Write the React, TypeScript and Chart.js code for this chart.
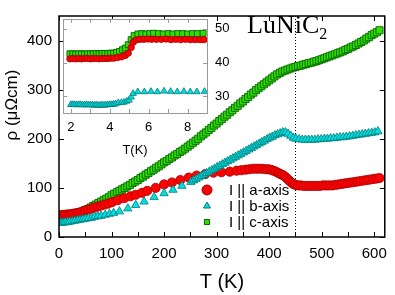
import React, { useEffect, useRef } from 'react';
import { Chart, registerables } from 'chart.js';
Chart.register(...registerables);

// ---------- main plot data (T in K, rho in µΩcm) ----------
const aT = [2,5,8,12,16,20,25,30,35,40,45,50,56,62,68,74,80,87,94,101,112,124,136,146,158,168,184,200,215,231,247,262,278,294,309,325,338,347,355,362,369,375,381,387,393,398,403,408,413,418,422,426,430,434,438,442,446,450,455,460,466,472,478,484,490,496,502,508,514,520,526,532,538,544,550,556,562,568,574,580,586,592,598,604,610];
const aR = [44,44,45,45,46,46,47,48,49,50,52,54,56,58,60,62,64,66,68,71,75,79,83,86,90,94,100,107,111,116,121,125,128,131,132,133,135,136,137,138,139,139,139,139,138,138,137,135,133,130,128,126,123,119,115,111,108,106,105,105,104,104,104,104,104,104,105,105,105,105,106,107,108,109,110,111,112,113,114,115,116,117,118,119,120];

const bT = [2,5,8,12,16,20,25,30,35,40,45,50,56,62,68,74,80,88,96,104,115,131,146,162,181,200,217,234,251,256,261,266,271,276,281,286,291,296,301,306,311,316,321,326,331,336,341,346,351,356,361,366,371,376,381,386,391,396,401,406,411,416,421,426,431,436,441,446,451,457,463,469,475,481,487,493,499,505,511,517,523,529,535,541,547,553,559,565,571,577,583,589,595,601,607];
const bR = [29,29,29,30,30,31,32,33,34,35,36,37,38,39,41,42,43,45,47,49,52,58,65,72,81,89,96,104,112,115,118,121,124,127,130,133,136,139,142,145,148,151,154,157,160,163,166,169,172,175,178,181,184,187,190,193,196,199,202,204,207,209,211,213,213,210,206,202,200,199,198,198,198,198,198,199,199,200,200,201,201,202,203,203,204,205,206,207,208,209,210,211,212,213,215];

const cT = [2,6,10,15,20,25,30,35,40,45,50,55,60,65,70,75,80,85,90,95,100,105,110,115,120,125,130,135,140,145,150,155,160,165,170,175,180,185,190,195,200,205,210,215,220,225,230,235,240,245,250,255,260,265,270,275,280,285,290,295,300,305,310,315,320,325,330,335,340,345,350,355,360,365,370,375,380,385,390,395,400,405,410,415,420,425,430,435,440,445,450,455,460,465,470,475,480,485,490,495,500,505,510,515,520,525,530,535,540,545,550,555,560,565,570,575,580,585,590,595,600,605,610];
const cR = [43,43,43,44,44,45,47,48,50,52,55,57,60,63,66,69,72,75,78,81,85,88,91,94,97,100,103,106,110,113,116,120,123,127,130,134,137,141,144,148,152,155,159,162,166,169,173,176,180,184,188,192,196,200,205,209,213,218,222,227,231,236,240,245,249,254,258,263,267,272,276,281,285,290,294,299,303,307,311,315,319,323,327,331,334,337,339,341,343,345,346,348,349,351,352,354,355,357,358,360,362,364,366,368,370,372,374,376,378,381,383,386,388,391,394,397,400,404,407,411,414,417,421];

// ---------- inset data (T in K, rho in µΩcm) ----------
const inAT = [1.95,2.1,2.25,2.4,2.55,2.7,2.85,3.0,3.15,3.3,3.45,3.6,3.75,3.9,4.05,4.2,4.4,4.6,4.8,4.95,5.1,5.2,5.35,5.55,5.75,5.95,6.15,6.4,6.65,6.9,7.15,7.4,7.65,7.9,8.15,8.4,8.65,8.85];
const inAR = [41.1,41.2,41.1,41.2,41.1,41.2,41.2,41.1,41.2,41.2,41.1,41.2,41.2,41.2,41.3,41.3,41.5,41.7,42.1,42.8,44.5,46.0,46.7,46.9,46.9,47.0,46.9,46.9,46.9,47.0,46.8,46.9,46.8,46.9,46.8,46.8,46.8,46.8];

const inBT = [2.0,2.1,2.2,2.3,2.4,2.5,2.6,2.7,2.8,2.9,3.0,3.1,3.2,3.3,3.4,3.5,3.6,3.7,3.8,3.9,4.0,4.1,4.2,4.3,4.44,4.6,4.73,4.87,4.99,5.1,5.2,5.44,5.78,6.12,6.45,6.79,7.13,7.47,7.81,8.14,8.48,8.87];
const inBR = [27.5,27.5,27.5,27.4,27.5,27.5,27.4,27.4,27.5,27.4,27.4,27.4,27.3,27.4,27.3,27.3,27.4,27.3,27.4,27.4,27.5,27.5,27.6,27.7,28.0,28.1,28.2,28.5,28.8,29.7,30.8,31.3,31.3,31.4,31.3,31.5,31.4,31.3,31.4,31.3,31.3,31.4];

const inCT = [1.95,2.1,2.25,2.4,2.55,2.7,2.85,3.0,3.15,3.3,3.45,3.6,3.75,3.9,4.05,4.2,4.35,4.5,4.65,4.8,4.95,5.1,5.25,5.45,5.65,5.85,6.05,6.25,6.5,6.75,7.0,7.25,7.5,7.75,8.0,8.25,8.5,8.8];
const inCR = [42.6,42.6,42.5,42.6,42.6,42.5,42.6,42.6,42.6,42.7,42.6,42.7,42.7,42.7,42.8,42.8,43.0,43.3,43.8,44.3,45.3,46.8,48.0,48.5,48.6,48.5,48.6,48.7,48.6,48.5,48.6,48.5,48.6,48.6,48.5,48.6,48.6,48.7];

// ---------- ticks / labels ----------
const mainXTicks = [0,100,200,300,400,500,600];
const mainYTicks = [0,100,200,300,400];
const insetXTicks = [2,4,6,8];
const insetYTicks = [30,40,50];
const legendLabels = ['I || a-axis','I || b-axis','I || c-axis'];
const transitionT = 450;

const SANS = '"Liberation Sans", Arial, sans-serif';
const SERIF = '"Liberation Serif", "Times New Roman", serif';

const COL = {
  redFill: '#ff0000', redEdge: '#a00000',
  cyanFill: '#00e0e0', cyanEdge: '#007878',
  greenFill: '#33dd00', greenEdge: '#006400',
};

const pts = (xs: number[], ys: number[]) => xs.map((x, i) => ({ x, y: ys[i] }));

function drawMarker(ctx: CanvasRenderingContext2D, style: string, x: number, y: number, r: number, fill: string, edge: string) {
  ctx.save();
  ctx.fillStyle = fill; ctx.strokeStyle = edge; ctx.lineWidth = 1;
  ctx.beginPath();
  if (style === 'circle') {
    ctx.arc(x, y, r, 0, Math.PI * 2);
  } else if (style === 'triangle') {
    let a = 0;
    ctx.moveTo(x + Math.sin(a) * r, y - Math.cos(a) * r);
    a += (2 * Math.PI) / 3;
    ctx.lineTo(x + Math.sin(a) * r, y - Math.cos(a) * r);
    a += (2 * Math.PI) / 3;
    ctx.lineTo(x + Math.sin(a) * r, y - Math.cos(a) * r);
    ctx.closePath();
  } else {
    const s = r * Math.SQRT1_2;
    ctx.rect(x - s, y - s, 2 * s, 2 * s);
  }
  ctx.fill(); ctx.stroke();
  ctx.restore();
}

const mainDecor = {
  id: 'mainDecor',
  beforeDatasetsDraw(chart: any) {
    const { ctx, chartArea: ca, scales } = chart;
    const px = Math.round(scales.x.getPixelForValue(transitionT)) + 0.5;
    ctx.save();
    ctx.strokeStyle = '#000'; ctx.lineWidth = 1; ctx.setLineDash([1, 2]);
    ctx.beginPath(); ctx.moveTo(px, ca.top); ctx.lineTo(px, ca.bottom); ctx.stroke();
    ctx.restore();
  },
  afterDraw(chart: any) {
    const { ctx, chartArea: ca, scales } = chart;
    const x = scales.x, y = scales.y;
    ctx.save();
    ctx.strokeStyle = '#000'; ctx.lineWidth = 1.5;
    ctx.strokeRect(ca.left, ca.top, ca.right - ca.left, ca.bottom - ca.top);
    ctx.lineWidth = 1;
    ctx.beginPath();
    for (let v = 0; v <= x.max; v += 50) {
      const p = Math.round(x.getPixelForValue(v)) + 0.5;
      ctx.moveTo(p, ca.bottom); ctx.lineTo(p, ca.bottom - 5);
    }
    for (const v of mainXTicks) {
      const p = Math.round(x.getPixelForValue(v)) + 0.5;
      ctx.moveTo(p, ca.top); ctx.lineTo(p, ca.top + 5);
    }
    for (const v of mainYTicks) {
      const p = Math.round(y.getPixelForValue(v)) + 0.5;
      ctx.moveTo(ca.left, p); ctx.lineTo(ca.left + 5, p);
      ctx.moveTo(ca.right, p); ctx.lineTo(ca.right - 5, p);
    }
    ctx.stroke();

    ctx.fillStyle = '#000';
    ctx.font = `20px ${SANS}`;
    ctx.textAlign = 'center'; ctx.textBaseline = 'middle';
    ctx.fillText('T (K)', (ca.left + ca.right) / 2, 282);
    ctx.save();
    ctx.translate(12, 105); ctx.rotate(-Math.PI / 2);
    ctx.font = `17px ${SANS}`;
    ctx.fillText('ρ (μΩcm)', 0, 0);
    ctx.restore();

    ctx.textAlign = 'left'; ctx.textBaseline = 'alphabetic';
    ctx.font = `26px ${SERIF}`;
    ctx.fillText('LuNiC', 247, 33);
    const w = ctx.measureText('LuNiC').width;
    ctx.font = `16px ${SERIF}`;
    ctx.fillText('2', 247 + w, 39);

    const rows = [
      { s: 'circle', r: 5, f: COL.redFill, e: COL.redEdge },
      { s: 'triangle', r: 4, f: COL.cyanFill, e: COL.cyanEdge },
      { s: 'rect', r: 3.6, f: COL.greenFill, e: COL.greenEdge },
    ];
    ctx.font = `15px ${SANS}`;
    ctx.textBaseline = 'middle';
    rows.forEach((row, i) => {
      const yy = 190 + i * 16;
      drawMarker(ctx, row.s, 207, yy, row.r, row.f, row.e);
      ctx.fillStyle = '#000';
      ctx.fillText(legendLabels[i], 229, yy + 1);
    });
    ctx.restore();
  },
};

const insetDecor = {
  id: 'insetDecor',
  beforeDraw(chart: any) {
    const { ctx, chartArea: ca } = chart;
    ctx.save();
    ctx.fillStyle = '#fff';
    ctx.fillRect(ca.left, ca.top, ca.right - ca.left, ca.bottom - ca.top);
    ctx.restore();
  },
  afterDraw(chart: any) {
    const { ctx, chartArea: ca, scales } = chart;
    const x = scales.x, y = scales.y;
    ctx.save();
    ctx.strokeStyle = '#999'; ctx.lineWidth = 1;
    ctx.strokeRect(Math.round(ca.left) + 0.5, Math.round(ca.top) + 0.5, Math.round(ca.right - ca.left), Math.round(ca.bottom - ca.top));
    ctx.beginPath();
    for (let v = 2; v <= 8; v += 1) {
      const p = Math.round(x.getPixelForValue(v)) + 0.5;
      ctx.moveTo(p, ca.bottom); ctx.lineTo(p, ca.bottom - 4);
      ctx.moveTo(p, ca.top); ctx.lineTo(p, ca.top + 4);
    }
    for (const v of insetYTicks) {
      const p = Math.round(y.getPixelForValue(v)) + 0.5;
      ctx.moveTo(ca.left, p); ctx.lineTo(ca.left + 4, p);
      ctx.moveTo(ca.right, p); ctx.lineTo(ca.right - 4, p);
    }
    ctx.stroke();
    ctx.restore();
  },
};

function dsets(a: any[], b: any[], c: any[], big: boolean) {
  return [
    { label: 'b', data: b, pointStyle: 'triangle', pointRadius: big ? 4.8 : 3.8, backgroundColor: COL.cyanFill, borderColor: COL.cyanEdge, borderWidth: 0.8, showLine: false },
    { label: 'a', data: a, pointStyle: 'circle', pointRadius: big ? 4.6 : 3.2, backgroundColor: COL.redFill, borderColor: COL.redEdge, borderWidth: 0.8, showLine: false },
    { label: 'c', data: c, pointStyle: 'rect', pointRadius: big ? 5 : 4.2, backgroundColor: COL.greenFill, borderColor: COL.greenEdge, borderWidth: 0.9, showLine: false },
  ];
}

export default function App() {
  const mainRef = useRef<HTMLCanvasElement>(null);
  const insetRef = useRef<HTMLCanvasElement>(null);

  useEffect(() => {
    const main = new Chart(mainRef.current as HTMLCanvasElement, {
      type: 'scatter',
      data: { datasets: dsets(pts(aT, aR), pts(bT, bR), pts(cT, cR), true) as any },
      options: {
        responsive: false, animation: false, devicePixelRatio: 1, events: [],
        layout: { padding: { top: 4, right: 7, left: 0, bottom: 0 } },
        plugins: { legend: { display: false }, tooltip: { enabled: false } },
        scales: {
          x: {
            type: 'linear', position: 'bottom', min: 0, max: 620,
            afterBuildTicks: (s: any) => { s.ticks = mainXTicks.map(v => ({ value: v })); },
            afterFit: (s: any) => { s.height = 58; },
            grid: { display: false, drawTicks: false }, border: { display: false },
            ticks: { font: { family: SANS, size: 15 }, color: '#000', padding: 8, maxRotation: 0, autoSkip: false },
          },
          y: {
            type: 'linear', position: 'left', min: 0, max: 450,
            afterBuildTicks: (s: any) => { s.ticks = mainYTicks.map(v => ({ value: v })); },
            afterFit: (s: any) => { s.width = 59; },
            grid: { display: false, drawTicks: false }, border: { display: false },
            ticks: { font: { family: SANS, size: 15 }, color: '#000', padding: 7, autoSkip: false },
          },
        },
      } as any,
      plugins: [mainDecor],
    });

    const inset = new Chart(insetRef.current as HTMLCanvasElement, {
      type: 'scatter',
      data: { datasets: dsets(pts(inAT, inAR), pts(inBT, inBR), pts(inCT, inCR), false) as any },
      options: {
        responsive: false, animation: false, devicePixelRatio: 1, events: [],
        layout: { padding: { top: 4, left: 4, right: 0, bottom: 0 } },
        plugins: { legend: { display: false }, tooltip: { enabled: false } },
        scales: {
          x: {
            type: 'linear', position: 'bottom', min: 1.6, max: 9.0,
            afterBuildTicks: (s: any) => { s.ticks = insetXTicks.map(v => ({ value: v })); },
            afterFit: (s: any) => { s.height = 50; },
            grid: { display: false, drawTicks: false }, border: { display: false },
            ticks: { font: { family: SANS, size: 13 }, color: '#000', padding: 7, maxRotation: 0, autoSkip: false },
            title: { display: true, text: 'T(K)', font: { family: SANS, size: 13 }, color: '#000', padding: { top: 0, bottom: 5 } },
          },
          y: {
            type: 'linear', position: 'right', min: 25, max: 53,
            afterBuildTicks: (s: any) => { s.ticks = insetYTicks.map(v => ({ value: v })); },
            afterFit: (s: any) => { s.width = 31; },
            grid: { display: false, drawTicks: false }, border: { display: false },
            ticks: { font: { family: SANS, size: 13 }, color: '#000', padding: 8, autoSkip: false },
          },
        },
      } as any,
      plugins: [insetDecor],
    });

    return () => { main.destroy(); inset.destroy(); };
  }, []);

  return (
    <div style={{ position: 'absolute', left: 0, top: 0, width: 395, height: 295, background: '#fff' }}>
      <canvas ref={mainRef} width={395} height={295} style={{ position: 'absolute', left: 0, top: 0, width: 395, height: 295 }} />
      <canvas ref={insetRef} width={180} height={160} style={{ position: 'absolute', left: 58, top: 3, width: 180, height: 160 }} />
    </div>
  );
}
